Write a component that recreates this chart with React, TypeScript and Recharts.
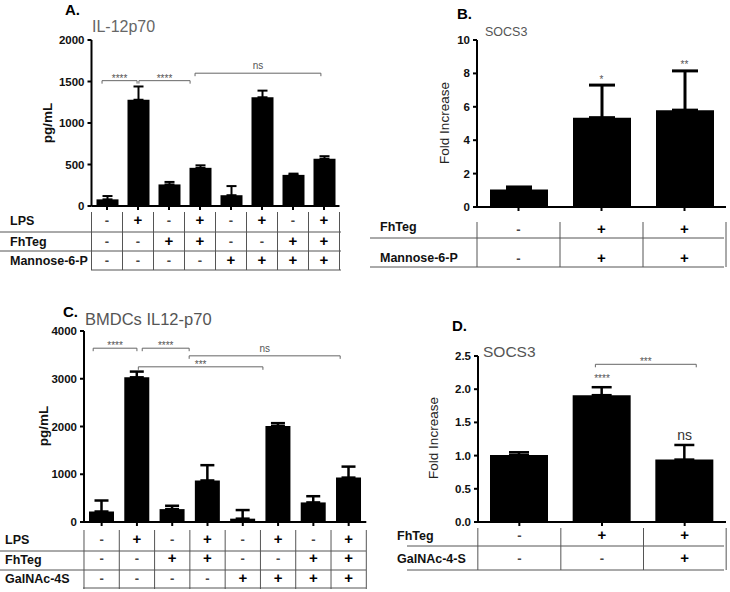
import React from "react";
import { BarChart, Bar, XAxis, YAxis, ErrorBar, ReferenceLine } from "recharts";

const FONT = "'Liberation Sans', Arial, Helvetica, sans-serif";

// Panel A: IL-12p70 (pg/mL)
const aValues = [80, 1280, 260, 460, 130, 1310, 375, 570];
const aErrors = [40, 160, 30, 30, 110, 80, 15, 30];
const aTicks = [0, 500, 1000, 1500, 2000];
const aLabels = ["LPS", "FhTeg", "Mannose-6-P"];
const aLps = ["-", "+", "-", "+", "-", "+", "-", "+"];
const aFhTeg = ["-", "-", "+", "+", "-", "-", "+", "+"];
const aMannose = ["-", "-", "-", "-", "+", "+", "+", "+"];
const aSig = [
  { from: 0.84, to: 1.97, y: 1510, text: "****" },
  { from: 2.03, to: 3.68, y: 1510, text: "****" },
  { from: 3.84, to: 7.9, y: 1600, text: "ns" },
];

// Panel B: SOCS3 fold increase
const bValues = [1.05, 5.35, 5.8];
const bErrors = [0.15, 1.95, 2.35];
const bTicks = [0, 2, 4, 6, 8, 10];
const bLabels = ["FhTeg", "Mannose-6-P"];
const bFhTeg = ["-", "+", "+"];
const bMannose = ["-", "+", "+"];
const bSig = [
  { from: 2, to: 2, y: 7.4, text: "*" },
  { from: 3, to: 3, y: 8.3, text: "**" },
];

// Panel C: BMDCs IL12-p70 (pg/mL)
const cValues = [220, 3030, 270, 870, 70, 2010, 410, 930];
const cErrors = [230, 120, 70, 320, 180, 60, 130, 230];
const cTicks = [0, 1000, 2000, 3000, 4000];
const cLabels = ["LPS", "FhTeg", "GalNAc-4S"];
const cLps = ["-", "+", "-", "+", "-", "+", "-", "+"];
const cFhTeg = ["-", "-", "+", "+", "-", "-", "+", "+"];
const cGalNAc = ["-", "-", "-", "-", "+", "+", "+", "+"];
const cSig = [
  { from: 0.76, to: 2.0, y: 3640, text: "****" },
  { from: 2.15, to: 3.48, y: 3640, text: "****" },
  { from: 3.48, to: 7.76, y: 3480, text: "ns" },
  { from: 2.04, to: 5.57, y: 3250, text: "***" },
];

// Panel D: SOCS3 fold increase
const dValues = [1.01, 1.91, 0.94];
const dErrors = [0.04, 0.12, 0.22];
const dTicks = [0, 0.5, 1.0, 1.5, 2.0, 2.5];
const dLabels = ["FhTeg", "GalNAc-4-S"];
const dFhTeg = ["-", "+", "+"];
const dGalNAc = ["-", "-", "+"];
const dSig = [
  { from: 1.92, to: 3.14, y: 2.375, text: "***" },
  { from: 2, to: 2, y: 2.11, text: "****" },
  { from: 3, to: 3, y: 1.235, text: "ns", big: true },
];

const toData = (values: number[], errors: number[]) =>
  values.map((v, i) => ({ x: i + 1, v, err: [0, errors[i]] }));

type TableCfg = {
  rows: string[][];
  labels: string[];
  step: number;
  labelX: number;
  labelY: number[];
  cellY: number[];
  vTop: number;
  vBottom: number;
  hLines: { y: number; x1: number; x2: number }[];
};

function makeTableTick(cfg: TableCfg) {
  return (props: any) => {
    const { x, y, payload } = props;
    const i = Math.round(payload.value) - 1;
    const half = cfg.step / 2;
    return (
      <g>
        <line x1={x} x2={x} y1={y} y2={y + 4} stroke="#000" strokeWidth={2} />
        {i === 0 && (
          <line x1={x - half} x2={x - half} y1={y + cfg.vTop} y2={y + cfg.vBottom} stroke="#555" strokeWidth={1} />
        )}
        <line x1={x + half} x2={x + half} y1={y + cfg.vTop} y2={y + cfg.vBottom} stroke="#555" strokeWidth={1} />
        {cfg.rows.map((row, r) => {
          const plus = row[i] === "+";
          return (
            <text
              key={r}
              x={x}
              y={y + cfg.cellY[r] + 5}
              textAnchor="middle"
              fontFamily={FONT}
              fontWeight="bold"
              fontSize={plus ? 15 : 13}
              fill={plus ? "#000" : "#444"}
            >
              {row[i]}
            </text>
          );
        })}
        {i === 0 &&
          cfg.labels.map((lab, r) => (
            <text key={lab} x={cfg.labelX} y={y + cfg.labelY[r]} fontFamily={FONT} fontWeight="bold" fontSize={12.5} fill="#111">
              {lab}
            </text>
          ))}
        {i === 0 &&
          cfg.hLines.map((h, k) => (
            <line key={k} x1={h.x1} x2={h.x2} y1={y + h.y} y2={y + h.y} stroke="#555" strokeWidth={1} />
          ))}
      </g>
    );
  };
}

const sigShape = (text: string, bracket: boolean, big?: boolean) => (p: any) => {
  const { x1, y1, x2 } = p;
  const mid = (x1 + x2) / 2;
  const isNs = text === "ns";
  return (
    <g>
      {bracket && (
        <g stroke="#666" strokeWidth={1}>
          <line x1={x1} x2={x2} y1={y1} y2={y1} />
          <line x1={x1} x2={x1} y1={y1} y2={y1 + 3} />
          <line x1={x2} x2={x2} y1={y1} y2={y1 + 3} />
        </g>
      )}
      <text
        x={mid}
        y={bracket ? y1 - (isNs ? 4 : -1) : y1}
        textAnchor="middle"
        fontFamily={FONT}
        fontSize={big ? 14 : isNs ? 10 : 10}
        fill={big ? "#333" : "#555"}
      >
        {text}
      </text>
    </g>
  );
};

type PanelProps = {
  left: number;
  top: number;
  width: number;
  height: number;
  yWidth: number;
  mTop: number;
  mRight: number;
  xHeight: number;
  values: number[];
  errors: number[];
  yTicks: number[];
  yFmt?: (v: number) => string;
  barSize: number;
  capWidth: number;
  errStroke: number;
  sig: { from: number; to: number; y: number; text: string; big?: boolean }[];
  table: TableCfg;
};

function Panel(p: PanelProps) {
  const data = toData(p.values, p.errors);
  const n = p.values.length;
  const ticks = data.map((d) => d.x);
  return (
    <div style={{ position: "absolute", left: p.left, top: p.top }}>
      <BarChart
        width={p.width}
        height={p.height}
        data={data}
        margin={{ top: p.mTop, right: p.mRight, left: 0, bottom: 0 }}
      >
        <XAxis
          type="number"
          dataKey="x"
          domain={[0.5, n + 0.5]}
          ticks={ticks}
          interval={0}
          height={p.xHeight}
          tickSize={0}
          tickMargin={0}
          tickLine={false}
          axisLine={{ stroke: "#000", strokeWidth: 2 }}
          tick={makeTableTick(p.table)}
        />
        <YAxis
          type="number"
          domain={[p.yTicks[0], p.yTicks[p.yTicks.length - 1]]}
          ticks={p.yTicks}
          interval={0}
          width={p.yWidth}
          tickSize={4}
          tickMargin={3}
          tickFormatter={p.yFmt}
          axisLine={{ stroke: "#000", strokeWidth: 2 }}
          tickLine={{ stroke: "#000", strokeWidth: 2 }}
          tick={{ fill: "#111", fontSize: 11.5, fontWeight: "bold", fontFamily: FONT }}
        />
        <Bar dataKey="v" fill="#000" barSize={p.barSize} isAnimationActive={false}>
          <ErrorBar dataKey="err" direction="y" width={p.capWidth} stroke="#000" strokeWidth={p.errStroke} />
        </Bar>
        {p.sig.map((s, k) => (
          <ReferenceLine
            key={k}
            ifOverflow="visible"
            segment={[
              { x: s.from, y: s.y },
              { x: s.to, y: s.y },
            ]}
            shape={sigShape(s.text, s.from !== s.to, s.big)}
          />
        ))}
      </BarChart>
    </div>
  );
}

export default function App() {
  return (
    <div style={{ position: "absolute", left: 0, top: 0, width: 730, height: 592, background: "#fff", fontFamily: FONT }}>
      <Panel
        left={0}
        top={0}
        width={370}
        height={290}
        yWidth={91.5}
        mTop={40}
        mRight={30.5}
        xHeight={84}
        values={aValues}
        errors={aErrors}
        yTicks={aTicks}
        barSize={22}
        capWidth={5}
        errStroke={2}
        sig={aSig}
        table={{
          rows: [aLps, aFhTeg, aMannose],
          labels: aLabels,
          step: 31,
          labelX: 10,
          labelY: [18.5, 39.5, 58.5],
          cellY: [14, 35, 54],
          vTop: 6,
          vBottom: 64,
          hLines: [
            { y: 26, x1: 0, x2: 341 },
            { y: 45, x1: 0, x2: 341 },
            { y: 64, x1: 91, x2: 341 },
          ],
        }}
      />
      <Panel
        left={370}
        top={0}
        width={360}
        height={290}
        yWidth={107}
        mTop={40}
        mRight={4}
        xHeight={83}
        values={bValues}
        errors={bErrors}
        yTicks={bTicks}
        barSize={58}
        capWidth={13}
        errStroke={3}
        sig={bSig}
        table={{
          rows: [bFhTeg, bMannose],
          labels: bLabels,
          step: 83,
          labelX: 10,
          labelY: [24, 55],
          cellY: [22, 51],
          vTop: 15,
          vBottom: 60,
          hLines: [
            { y: 31, x1: 0, x2: 354 },
            { y: 60, x1: 0, x2: 354 },
          ],
        }}
      />
      <Panel
        left={0}
        top={290}
        width={370}
        height={302}
        yWidth={84}
        mTop={41}
        mRight={3.7}
        xHeight={70}
        values={cValues}
        errors={cErrors}
        yTicks={cTicks}
        barSize={25}
        capWidth={7}
        errStroke={2.5}
        sig={cSig}
        table={{
          rows: [cLps, cFhTeg, cGalNAc],
          labels: cLabels,
          step: 35.3,
          labelX: 5,
          labelY: [22, 42, 61],
          cellY: [17, 36, 56],
          vTop: 8,
          vBottom: 67,
          hLines: [
            { y: 29, x1: 0, x2: 366 },
            { y: 48, x1: 0, x2: 366 },
            { y: 66, x1: 83, x2: 366 },
          ],
        }}
      />
      <Panel
        left={370}
        top={290}
        width={360}
        height={302}
        yWidth={108}
        mTop={66}
        mRight={4}
        xHeight={70}
        values={dValues}
        errors={dErrors}
        yTicks={dTicks}
        yFmt={(v: number) => v.toFixed(1)}
        barSize={58}
        capWidth={10}
        errStroke={2.5}
        sig={dSig}
        table={{
          rows: [dFhTeg, dGalNAc],
          labels: dLabels,
          step: 83,
          labelX: 27,
          labelY: [18, 41],
          cellY: [13, 36],
          vTop: 6,
          vBottom: 48,
          hLines: [
            { y: 24, x1: 37, x2: 354 },
            { y: 48, x1: 37, x2: 354 },
          ],
        }}
      />
      <svg width={730} height={592} style={{ position: "absolute", left: 0, top: 0, pointerEvents: "none" }}>
        <g fontFamily={FONT}>
          <text x={65} y={15} fontSize={15} fontWeight="bold" fill="#000">A.</text>
          <text x={92} y={32} fontSize={16} fill="#666">IL-12p70</text>
          <text x={457} y={19} fontSize={15} fontWeight="bold" fill="#000">B.</text>
          <text x={485} y={36} fontSize={12.5} fill="#555">SOCS3</text>
          <text x={63} y={317} fontSize={15} fontWeight="bold" fill="#000">C.</text>
          <text x={85} y={325} fontSize={16.5} fill="#555">BMDCs IL12-p70</text>
          <text x={452} y={331} fontSize={15} fontWeight="bold" fill="#000">D.</text>
          <text x={483} y={357} fontSize={15.5} fill="#555">SOCS3</text>
          <text transform="translate(52,123) rotate(-90)" textAnchor="middle" fontSize={13.5} fontWeight="bold" fill="#111">pg/mL</text>
          <text transform="translate(48,426) rotate(-90)" textAnchor="middle" fontSize={13.5} fontWeight="bold" fill="#111">pg/mL</text>
          <text transform="translate(449,123) rotate(-90)" textAnchor="middle" fontSize={13.5} fill="#222">Fold Increase</text>
          <text transform="translate(438,438) rotate(-90)" textAnchor="middle" fontSize={13.5} fill="#222">Fold Increase</text>
        </g>
      </svg>
    </div>
  );
}
